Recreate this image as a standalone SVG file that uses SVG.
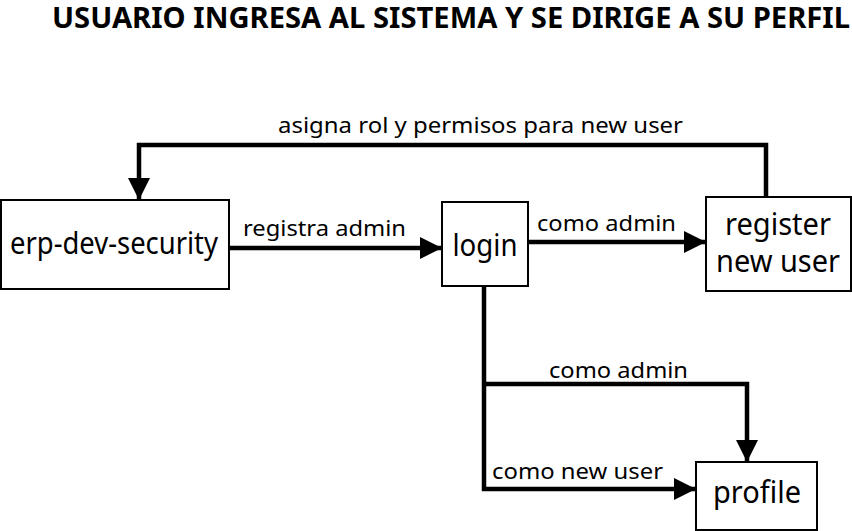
<svg xmlns="http://www.w3.org/2000/svg" width="852" height="531" viewBox="0 0 852 531">
<style>
.node rect{fill:#fff;stroke:#000;stroke-width:2}
.nt{font-family:"Noto Sans","Open Sans",sans-serif;font-size:31px;fill:#000;text-anchor:middle}
.lbl{font-family:"Noto Sans","Open Sans",sans-serif;font-size:21px;fill:#000}
.title{font-family:"Noto Sans","Open Sans",sans-serif;font-size:29px;font-weight:bold;fill:#000}
.edge{fill:none;stroke:#000;stroke-width:4.5}
</style>
<defs>
<marker id="arr" viewBox="0 0 10 10" refX="10" refY="5" markerWidth="5" markerHeight="5.4" markerUnits="strokeWidth" orient="auto">
<path d="M0,0 L10,5 L0,10 Z" fill="#000"/>
</marker>
</defs>
<rect width="852" height="531" fill="#fff"/>
<text class="title" x="52" y="28" textLength="798" lengthAdjust="spacingAndGlyphs">USUARIO INGRESA AL SISTEMA Y SE DIRIGE A SU PERFIL</text>
<g id="connectors">
<path class="edge" d="M229,248 H442" marker-end="url(#arr)"/>
<path class="edge" d="M528,242 H706" marker-end="url(#arr)"/>
<path class="edge" d="M766,197 V145 H139 V200" marker-end="url(#arr)"/>
<path class="edge" d="M484,286 V489 H696" marker-end="url(#arr)"/>
<path class="edge" d="M484,384 H747 V462" marker-end="url(#arr)"/>
<text class="lbl" x="243" y="236" textLength="163" lengthAdjust="spacingAndGlyphs">registra admin</text>
<text class="lbl" x="537" y="231" textLength="139" lengthAdjust="spacingAndGlyphs">como admin</text>
<text class="lbl" x="278" y="133" textLength="405" lengthAdjust="spacingAndGlyphs">asigna rol y permisos para new user</text>
<text class="lbl" x="549" y="378" textLength="139" lengthAdjust="spacingAndGlyphs">como admin</text>
<text class="lbl" x="492" y="479" textLength="171" lengthAdjust="spacingAndGlyphs">como new user</text>
</g>
<g id="erp-dev-security" class="node">
<rect x="1" y="200" width="228" height="89"/>
<text class="nt" x="114" y="254" textLength="208" lengthAdjust="spacingAndGlyphs">erp-dev-security</text>
</g>
<g id="login" class="node">
<rect x="442" y="202" width="86" height="84"/>
<text class="nt" x="485" y="256" textLength="65" lengthAdjust="spacingAndGlyphs">login</text>
</g>
<g id="register" class="node">
<rect x="706" y="197" width="145" height="94"/>
<text class="nt" x="778" y="235" font-size="26" textLength="106" lengthAdjust="spacingAndGlyphs">register</text>
<text class="nt" x="778" y="272" font-size="26" textLength="124" lengthAdjust="spacingAndGlyphs">new user</text>
</g>
<g id="profile" class="node">
<rect x="696" y="462" width="121" height="68"/>
<text class="nt" x="757" y="503" font-size="28" textLength="88" lengthAdjust="spacingAndGlyphs">profile</text>
</g>
</svg>
